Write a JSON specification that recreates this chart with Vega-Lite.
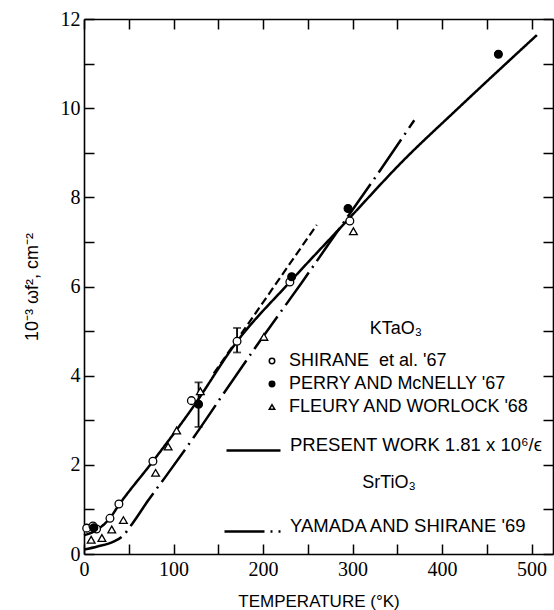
{
  "$schema": "https://vega.github.io/schema/vega-lite/v6.json",
  "width": 469,
  "height": 535,
  "autosize": {"type": "none"},
  "padding": {"left": 84, "top": 19, "right": 1, "bottom": 56},
  "background": "white",
  "config": {
    "view": {"stroke": null},
    "font": "Liberation Sans",
    "axis": {
      "labelFont": "Liberation Sans Narrow",
      "labelFontSize": 20,
      "labelColor": "black",
      "domainColor": "black",
      "domainWidth": 1.6,
      "tickColor": "black",
      "tickWidth": 1.5,
      "tickSize": -10,
      "grid": false,
      "titleFont": "Liberation Sans",
      "titleFontSize": 17,
      "titleFontWeight": "normal",
      "titleColor": "black"
    },
    "legend": {
      "labelFont": "Liberation Sans",
      "labelFontSize": 18,
      "labelColor": "black",
      "labelLimit": 400,
      "titleFont": "Liberation Sans",
      "titleFontSize": 18,
      "titleFontWeight": "normal",
      "titleColor": "black",
      "titleLimit": 400,
      "padding": 0
    }
  },
  "datasets": {
    "curves": [
      {"series": "present", "T": 0, "v": 0.42},
      {"series": "present", "T": 15, "v": 0.55},
      {"series": "present", "T": 28, "v": 0.78},
      {"series": "present", "T": 39, "v": 1.1},
      {"series": "present", "T": 77, "v": 2.08},
      {"series": "present", "T": 122, "v": 3.3},
      {"series": "present", "T": 170, "v": 4.74},
      {"series": "present", "T": 230, "v": 6.1},
      {"series": "present", "T": 295, "v": 7.5},
      {"series": "present", "T": 357, "v": 8.83},
      {"series": "present", "T": 416, "v": 9.96},
      {"series": "present", "T": 506, "v": 11.64},
      {"series": "dashed", "T": 145, "v": 4.05},
      {"series": "dashed", "T": 260, "v": 7.38},
      {"series": "yamada", "T": 0, "v": 0.1},
      {"series": "yamada", "T": 15, "v": 0.17},
      {"series": "yamada", "T": 33, "v": 0.28},
      {"series": "yamada", "T": 43, "v": 0.4},
      {"series": "yamada", "T": 54, "v": 0.68},
      {"series": "yamada", "T": 72, "v": 1.21},
      {"series": "yamada", "T": 91, "v": 1.73},
      {"series": "yamada", "T": 123, "v": 2.63},
      {"series": "yamada", "T": 156, "v": 3.6},
      {"series": "yamada", "T": 196, "v": 4.76},
      {"series": "yamada", "T": 243, "v": 6.08},
      {"series": "yamada", "T": 293, "v": 7.52},
      {"series": "yamada", "T": 329, "v": 8.55},
      {"series": "yamada", "T": 369, "v": 9.73}
    ],
    "points": [
      {"src": "SHIRANE  et al. '67", "T": 3, "v": 0.58},
      {"src": "SHIRANE  et al. '67", "T": 10, "v": 0.63},
      {"src": "SHIRANE  et al. '67", "T": 14, "v": 0.56},
      {"src": "SHIRANE  et al. '67", "T": 29, "v": 0.8},
      {"src": "SHIRANE  et al. '67", "T": 39, "v": 1.12},
      {"src": "SHIRANE  et al. '67", "T": 77, "v": 2.08},
      {"src": "SHIRANE  et al. '67", "T": 120, "v": 3.44},
      {"src": "SHIRANE  et al. '67", "T": 171, "v": 4.77},
      {"src": "SHIRANE  et al. '67", "T": 230, "v": 6.1},
      {"src": "SHIRANE  et al. '67", "T": 297, "v": 7.47},
      {"src": "PERRY AND McNELLY '67", "T": 11, "v": 0.59},
      {"src": "PERRY AND McNELLY '67", "T": 128, "v": 3.36},
      {"src": "PERRY AND McNELLY '67", "T": 232, "v": 6.22},
      {"src": "PERRY AND McNELLY '67", "T": 295, "v": 7.75},
      {"src": "PERRY AND McNELLY '67", "T": 463, "v": 11.21},
      {"src": "FLEURY AND WORLOCK '68", "T": 8, "v": 0.32},
      {"src": "FLEURY AND WORLOCK '68", "T": 20, "v": 0.36},
      {"src": "FLEURY AND WORLOCK '68", "T": 31, "v": 0.55},
      {"src": "FLEURY AND WORLOCK '68", "T": 44, "v": 0.76},
      {"src": "FLEURY AND WORLOCK '68", "T": 80, "v": 1.82},
      {"src": "FLEURY AND WORLOCK '68", "T": 94, "v": 2.41},
      {"src": "FLEURY AND WORLOCK '68", "T": 103.5, "v": 2.77},
      {"src": "FLEURY AND WORLOCK '68", "T": 130, "v": 3.65},
      {"src": "FLEURY AND WORLOCK '68", "T": 201, "v": 4.87},
      {"src": "FLEURY AND WORLOCK '68", "T": 301, "v": 7.24}
    ],
    "errors": [
      {"T": 128, "lo": 2.85, "hi": 3.85},
      {"T": 171, "lo": 4.52, "hi": 5.07}
    ]
  },
  "layer": [
    {
      "data": {"name": "curves"},
      "transform": [{"filter": "datum.series == 'present'"}, {"calculate": "'PRESENT WORK 1.81 x 10⁶/ϵ'", "as": "label"}],
      "mark": {"type": "line", "color": "black", "strokeWidth": 2.5, "interpolate": "monotone"},
      "encoding": {
        "x": {"field": "T", "type": "quantitative", "scale": {"domain": [0, 524], "nice": false, "zero": false},
          "axis": {"orient": "bottom", "values": [0, 50, 100, 150, 200, 250, 300, 350, 400, 450, 500],
            "labelExpr": "datum.value % 100 == 0 ? datum.label : ''", "labelPadding": 15, "labelFlush": false, "labelOverlap": false,
            "title": "TEMPERATURE (°K)", "titlePadding": 14}},
        "y": {"field": "v", "type": "quantitative", "scale": {"domain": [0, 12], "nice": false},
          "axis": {"orient": "left", "values": [0, 1, 2, 3, 4, 5, 6, 7, 8, 9, 10, 11, 12],
            "labelExpr": "datum.value % 2 == 0 ? datum.label : ''", "labelPadding": 14, "labelFlush": false, "labelOverlap": false,
            "title": "10⁻³ ωf², cm⁻²", "titlePadding": 19, "titleFontSize": 18}},
        "strokeDash": {"field": "label", "type": "nominal", "scale": {"range": [[1, 0]]},
          "legend": {"title": null, "orient": "none", "legendX": 141, "legendY": 403, "symbolType": "stroke",
            "symbolSize": 2916, "symbolStrokeWidth": 2.5, "symbolStrokeColor": "black", "labelOffset": 8,
            "labelBaseline": "alphabetic", "labelFontSize": 18.5}}
      }
    },
    {
      "data": {"name": "curves"},
      "transform": [{"filter": "datum.series == 'dashed'"}],
      "mark": {"type": "line", "color": "black", "strokeWidth": 2.2, "strokeDash": [8, 4]},
      "encoding": {
        "x": {"field": "T", "type": "quantitative",
          "axis": {"orient": "top", "values": [0, 50, 100, 150, 200, 250, 300, 350, 400, 450, 500], "labels": false, "title": null}},
        "y": {"field": "v", "type": "quantitative",
          "axis": {"orient": "right", "values": [0, 1, 2, 3, 4, 5, 6, 7, 8, 9, 10, 11, 12], "labels": false, "title": null}}
      }
    },
    {
      "data": {"name": "curves"},
      "transform": [{"filter": "datum.series == 'yamada'"}, {"calculate": "'YAMADA AND SHIRANE \\'69'", "as": "label"}],
      "mark": {"type": "line", "color": "black", "strokeWidth": 2.5, "interpolate": "monotone"},
      "encoding": {
        "x": {"field": "T", "type": "quantitative", "axis": null},
        "y": {"field": "v", "type": "quantitative", "axis": null},
        "strokeDash": {"field": "label", "type": "nominal", "scale": {"range": [[40, 6, 2, 6]]},
          "legend": {"title": "SrTiO₃", "titleAnchor": "middle", "orient": "none", "legendX": 139, "legendY": 455,
            "titlePadding": 10, "symbolType": "stroke", "symbolSize": 3136, "symbolStrokeWidth": 2.5, "symbolStrokeColor": "black",
            "labelOffset": 8, "labelBaseline": "alphabetic", "labelFontSize": 18.5,
            "encode": {"symbols": {"update": {"strokeDash": {"value": [22, 4, 2, 4]}}}, "title": {"update": {"dx": {"value": 14}}}}}}
      }
    },
    {
      "data": {"name": "errors"},
      "mark": {"type": "rule", "color": "black", "strokeWidth": 1.8},
      "encoding": {
        "x": {"field": "T", "type": "quantitative", "axis": null},
        "y": {"field": "lo", "type": "quantitative", "axis": null},
        "y2": {"field": "hi"}
      }
    },
    {
      "data": {"name": "errors"},
      "mark": {"type": "tick", "orient": "horizontal", "color": "black", "size": 8, "thickness": 1.8},
      "encoding": {
        "x": {"field": "T", "type": "quantitative", "axis": null},
        "y": {"field": "lo", "type": "quantitative", "axis": null}
      }
    },
    {
      "data": {"name": "errors"},
      "mark": {"type": "tick", "orient": "horizontal", "color": "black", "size": 8, "thickness": 1.8},
      "encoding": {
        "x": {"field": "T", "type": "quantitative", "axis": null},
        "y": {"field": "hi", "type": "quantitative", "axis": null}
      }
    },
    {
      "data": {"name": "points"},
      "mark": {"type": "point", "filled": true, "stroke": "black", "strokeWidth": 1.3, "size": 60, "opacity": 1},
      "encoding": {
        "x": {"field": "T", "type": "quantitative", "axis": null},
        "y": {"field": "v", "type": "quantitative", "axis": null},
        "shape": {"field": "src", "type": "nominal",
          "scale": {"domain": ["SHIRANE  et al. '67", "PERRY AND McNELLY '67", "FLEURY AND WORLOCK '68"], "range": ["circle", "circle", "triangle-up"]},
          "legend": {"title": "KTaO₃", "titleAnchor": "middle", "orient": "none", "legendX": 179, "legendY": 301,
            "titlePadding": 14, "labelOffset": 8, "rowPadding": 5, "symbolSize": 30,
            "labelExpr": "replace(datum.label, '  ', '\u00a0 ')",
            "encode": {
              "symbols": {"update": {"stroke": {"value": "black"}, "strokeWidth": {"value": 1.2},
                "fill": {"signal": "indexof(datum.value, 'PERRY') >= 0 ? 'black' : 'white'"}}},
              "title": {"update": {"dx": {"value": -20}}}}}},
        "fill": {"field": "src", "type": "nominal",
          "scale": {"domain": ["SHIRANE  et al. '67", "PERRY AND McNELLY '67", "FLEURY AND WORLOCK '68"], "range": ["white", "black", "white"]},
          "legend": null}
      }
    }
  ],
  "resolve": {
    "scale": {"strokeDash": "independent"},
    "legend": {"strokeDash": "independent"},
    "axis": {"x": "independent", "y": "independent"}
  }
}
